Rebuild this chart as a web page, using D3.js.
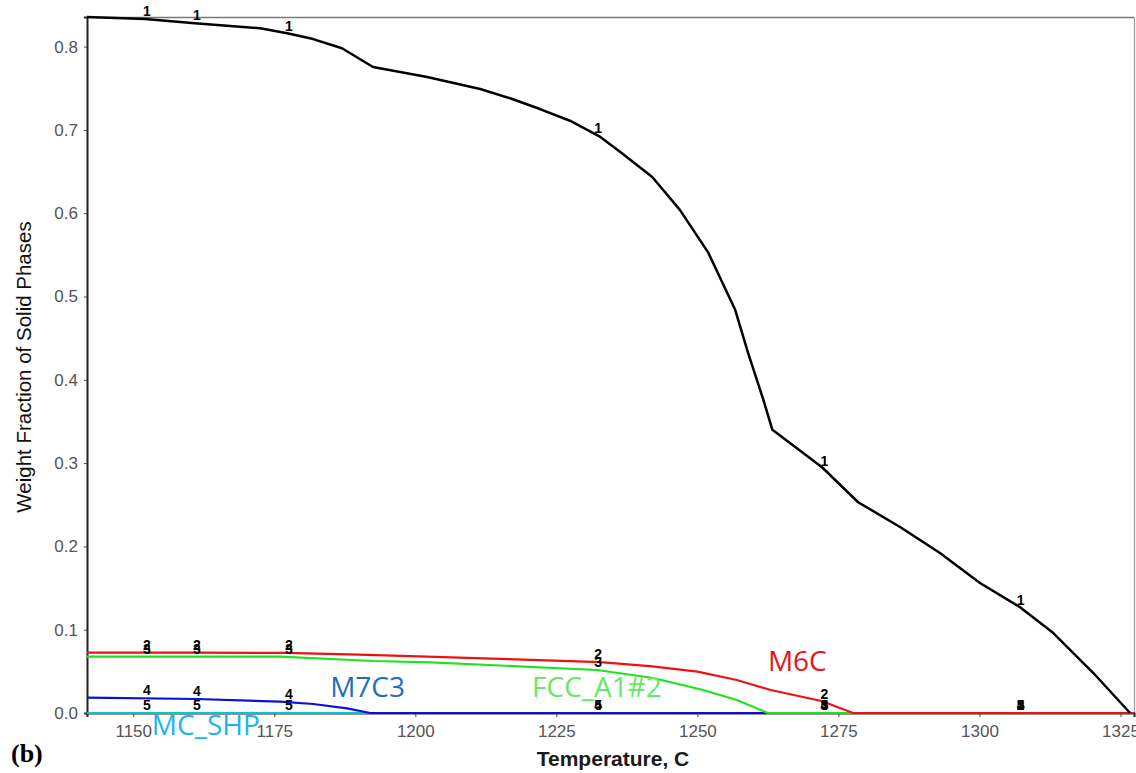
<!DOCTYPE html>
<html>
<head>
<meta charset="utf-8">
<script src="https://cdn.jsdelivr.net/npm/d3@7"></script>
<style>
  html, body { margin: 0; padding: 0; background: #fff; }
  svg { display: block; }
</style>
</head>
<body>
<svg id="chart" width="1136" height="773"></svg>
<script>
// Weight fraction of solid phases vs. temperature (equilibrium step calculation)

// Phase 1 — total solid (black)
const temp1 = [1141.8, 1152.1, 1160.9, 1172.5, 1177.3, 1181.9, 1187.0, 1192.5, 1197.3, 1202.1,
               1211.5, 1216.8, 1222.1, 1227.4, 1232.8, 1236.8, 1242.0, 1246.9, 1251.9, 1256.7,
               1259.0, 1261.7, 1263.3, 1272.1, 1278.5, 1286.0, 1293.0, 1300.1, 1307.2, 1313.1,
               1320.2, 1326.7];
const frac1 = [0.8355, 0.833, 0.828, 0.822, 0.816, 0.809, 0.798, 0.7755, 0.7695, 0.7635,
               0.749, 0.738, 0.725, 0.711, 0.6915, 0.671, 0.6435, 0.604, 0.553, 0.484,
               0.432, 0.376, 0.340, 0.295, 0.253, 0.223, 0.192, 0.156, 0.127, 0.096,
               0.048, 0.0];

// Phase 2 — M6C (red)
const temp2 = [1141.8, 1160, 1177, 1190, 1202, 1215, 1232.8, 1242, 1250, 1257, 1263, 1272, 1277.6, 1327.4];
const frac2 = [0.0724, 0.0724, 0.0722, 0.0700, 0.0676, 0.065, 0.061, 0.056, 0.0496, 0.0396, 0.0276, 0.0144, 0.0, 0.0];

// Phase 3 — FCC_A1#2 (green)
const temp3 = [1141.8, 1176, 1192.5, 1202.6, 1215, 1232.2, 1242.2, 1251, 1257, 1262.5, 1277.6];
const frac3 = [0.0676, 0.0676, 0.0624, 0.0608, 0.057, 0.0516, 0.042, 0.0276, 0.0156, 0.0, 0.0];

// Phase 4 — M7C3 (blue)
const temp4 = [1141.8, 1161.3, 1176, 1181.9, 1187.9, 1192, 1327.4];
const frac4 = [0.0184, 0.0168, 0.0136, 0.0108, 0.0056, 0.0, 0.0];

// Phase 5 — MC_SHP (cyan)
const temp5 = [1141.8, 1327.4];
const frac5 = [0.0, 0.0];

// Temperatures where the curve numbers are printed
const labelTemps = [1152.4, 1161.3, 1177.6, 1232.4, 1272.5, 1307.3];

// Axis ticks
const xTicks = [1150, 1175, 1200, 1225, 1250, 1275, 1300, 1325];
const yTicks = [0.0, 0.1, 0.2, 0.3, 0.4, 0.5, 0.6, 0.7, 0.8];

// Phase names written on the plot
const phaseNames = ["M6C", "M7C3", "FCC_A1#2", "MC_SHP"];

const series = [
  { id: "5", t: temp5, v: frac5, color: "#00c8d2" },
  { id: "4", t: temp4, v: frac4, color: "#0a10d8" },
  { id: "3", t: temp3, v: frac3, color: "#1ee41e" },
  { id: "2", t: temp2, v: frac2, color: "#f01010" },
  { id: "1", t: temp1, v: frac1, color: "#000000" }
];

const svg = d3.select("#chart");
const plotL = 87, plotR = 1134, plotT = 17, plotB = 713;

const x = d3.scaleLinear().domain([1141.8, 1327.4]).range([plotL, plotR]);
const y = d3.scaleLinear().domain([0, 0.8355]).range([plotB, plotT]);

// Frame: grey top and right edges
svg.append("line").attr("x1", plotL).attr("x2", plotR).attr("y1", plotT + 0.5).attr("y2", plotT + 0.5)
  .attr("stroke", "#7a7a7a").attr("stroke-width", 1.5);
svg.append("line").attr("x1", plotR + 0.5).attr("x2", plotR + 0.5).attr("y1", plotT).attr("y2", plotB)
  .attr("stroke", "#9a9a9a").attr("stroke-width", 1.2);

// Y axis
const yAxis = d3.axisLeft(y).tickValues(yTicks).tickFormat(d3.format(".1f")).tickSize(3).tickPadding(6);
const gy = svg.append("g").attr("transform", `translate(${plotL},0)`).call(yAxis);
gy.select(".domain").attr("stroke", "#222").attr("stroke-width", 2);
gy.selectAll(".tick line").attr("stroke", "#444").attr("stroke-width", 1);
gy.selectAll(".tick text").attr("fill", "#555").attr("font-family", "'Liberation Sans', Arial, sans-serif")
  .attr("font-size", 17);

// X axis
const xAxis = d3.axisBottom(x).tickValues(xTicks).tickFormat(d3.format("d")).tickSize(4).tickPadding(8);
const gx = svg.append("g").attr("transform", `translate(0,${plotB})`).call(xAxis);
gx.select(".domain").attr("stroke", "#222").attr("stroke-width", 2);
gx.selectAll(".tick line").attr("stroke", "#444").attr("stroke-width", 1);
gx.selectAll(".tick text").attr("fill", "#555").attr("font-family", "'Liberation Sans', Arial, sans-serif")
  .attr("font-size", 17);

// Axis titles
svg.append("text").attr("x", 613).attr("y", 766).attr("text-anchor", "middle")
  .attr("font-family", "'Liberation Sans', Arial, sans-serif").attr("font-size", 21)
  .attr("font-weight", "bold").attr("fill", "#1a1a1a").text("Temperature, C");
svg.append("text").attr("transform", "translate(31,367) rotate(-90)").attr("text-anchor", "middle")
  .attr("font-family", "'Liberation Sans', Arial, sans-serif").attr("font-size", 20.5)
  .attr("fill", "#111").text("Weight Fraction of Solid Phases");

// Panel letter
svg.append("text").attr("x", 11).attr("y", 762)
  .attr("font-family", "'Liberation Serif', 'Times New Roman', serif").attr("font-size", 26)
  .attr("font-weight", "bold").attr("fill", "#000").text("(b)");

// Curves
const line = d3.line().x(d => x(d[0])).y(d => y(d[1]));
series.forEach(s => {
  const pts = s.t.map((t, i) => [t, s.v[i]]);
  svg.append("path").datum(pts).attr("d", line).attr("fill", "none")
    .attr("stroke", s.color).attr("stroke-width", s.id === "1" ? 2.5 : 2.2).attr("stroke-linejoin", "round");
});

// Curve numbers placed on each curve at the label temperatures
function valueAt(s, t) {
  if (t <= s.t[0]) return s.v[0];
  if (t >= s.t[s.t.length - 1]) return s.v[s.v.length - 1];
  const i = d3.bisectRight(s.t, t) - 1;
  const f = (t - s.t[i]) / (s.t[i + 1] - s.t[i]);
  return s.v[i] + f * (s.v[i + 1] - s.v[i]);
}
series.forEach(s => {
  labelTemps.forEach(t => {
    if (t > s.t[s.t.length - 1] + 0.01) return;
    svg.append("text").attr("x", x(t)).attr("y", y(valueAt(s, t)) - 3)
      .attr("text-anchor", "middle").attr("font-family", "'Liberation Sans', Arial, sans-serif")
      .attr("font-size", 14).attr("font-weight", "bold").attr("fill", "#000").text(s.id);
  });
});

// Phase names
const phaseFont = "'Open Sans', 'Noto Sans', sans-serif";
const phasePos = [
  { name: phaseNames[0], T: 1262.5, v: 0.051, color: "#e8141c" },
  { name: phaseNames[1], T: 1184.9, v: 0.0192, color: "#1f6fc0" },
  { name: phaseNames[2], T: 1220.7, v: 0.0192, color: "#66e866" },
  { name: phaseNames[3], T: 1153.3, v: -0.0264, color: "#20b4ee" }
];
phasePos.forEach(p => {
  svg.append("text").attr("x", x(p.T)).attr("y", y(p.v))
    .attr("font-family", phaseFont).attr("font-size", 28).attr("fill", p.color).text(p.name);
});
</script>
</body>
</html>
